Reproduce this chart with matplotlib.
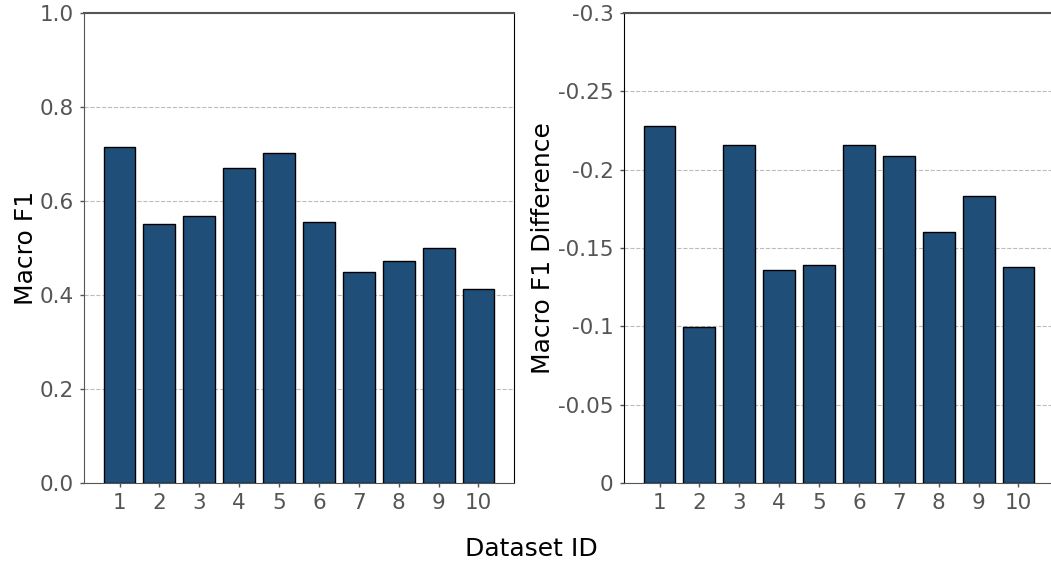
import matplotlib.pyplot as plt
from matplotlib.ticker import FixedLocator, FixedFormatter

dataset_ids = [1, 2, 3, 4, 5, 6, 7, 8, 9, 10]
macro_f1 = [0.715, 0.551, 0.568, 0.670, 0.702, 0.555, 0.449, 0.472, 0.500, 0.413]
macro_f1_diff = [-0.228, -0.0995, -0.216, -0.136, -0.139, -0.216, -0.209, -0.160, -0.183, -0.138]

left_ticks = [0.0, 0.2, 0.4, 0.6, 0.8, 1.0]
left_labels = ['0.0', '0.2', '0.4', '0.6', '0.8', '1.0']
right_ticks = [0, -0.05, -0.1, -0.15, -0.2, -0.25, -0.3]
right_labels = ['0', '-0.05', '-0.1', '-0.15', '-0.2', '-0.25', '-0.3']

bar_color = '#1f4e79'
tick_gray = '#555555'

fig = plt.figure(figsize=(10.51, 5.64), dpi=100)
ax1 = fig.add_axes([84 / 1051, 81 / 564, 430 / 1051, 470 / 564])
ax2 = fig.add_axes([624 / 1051, 81 / 564, 430 / 1051, 470 / 564])

# left panel
ax1.bar(dataset_ids, macro_f1, width=0.8, color=bar_color, edgecolor='black', linewidth=1, zorder=3)
ax1.set_ylim(0, 1.0)
ax1.yaxis.set_major_locator(FixedLocator(left_ticks))
ax1.yaxis.set_major_formatter(FixedFormatter(left_labels))
ax1.set_ylabel('Macro F1', fontsize=18, labelpad=1)

# right panel, axis runs downward from 0 to -0.3
ax2.bar(dataset_ids, macro_f1_diff, width=0.8, color=bar_color, edgecolor='black', linewidth=1, zorder=3)
ax2.set_ylim(0, -0.3)
ax2.yaxis.set_major_locator(FixedLocator(right_ticks))
ax2.yaxis.set_major_formatter(FixedFormatter(right_labels))
ax2.set_ylabel('Macro F1 Difference', fontsize=18, labelpad=2)

for ax in (ax1, ax2):
    ax.set_xticks(dataset_ids)
    ax.grid(axis='y', linestyle='--', color='#bbbbbb', linewidth=0.8, zorder=0)
    ax.tick_params(axis='both', labelsize=15.5, labelcolor=tick_gray, color=tick_gray,
                   length=3, width=1, pad=4.5)
    ax.spines['bottom'].set_color(tick_gray)
    ax.spines['top'].set_color(tick_gray)
    ax.spines['top'].set_linewidth(1.5)

ax1.spines['left'].set_color(tick_gray)
ax1.spines['right'].set_color('black')
ax2.spines['left'].set_color('black')
ax2.spines['right'].set_visible(False)

fig.text(0.506, 0.027, 'Dataset ID', ha='center', va='center', fontsize=18)

fig.savefig('out.png', dpi=100)
